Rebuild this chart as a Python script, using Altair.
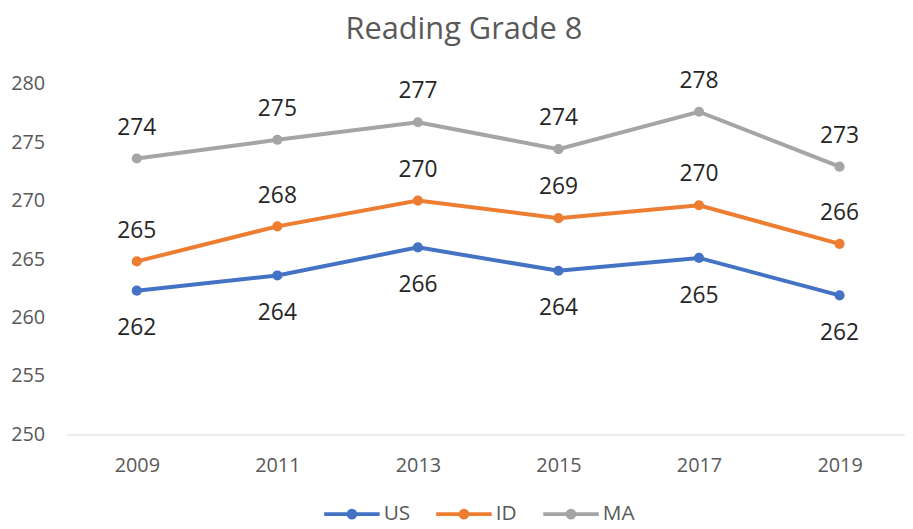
import altair as alt
import pandas as pd

years = ["2009", "2011", "2013", "2015", "2017", "2019"]
series_names = ["US", "ID", "MA"]
colors = ["#4472C4", "#ED7D31", "#A5A5A5"]

us_values = [262.3, 263.6, 266.0, 264.0, 265.1, 261.9]
id_values = [264.8, 267.8, 270.0, 268.5, 269.6, 266.3]
ma_values = [273.6, 275.2, 276.7, 274.4, 277.6, 272.9]

us_labels = ["262", "264", "266", "264", "265", "262"]
id_labels = ["265", "268", "270", "269", "270", "266"]
ma_labels = ["274", "275", "277", "274", "278", "273"]

y_ticks = [250, 255, 260, 265, 270, 275, 280]

rows = []
for name, vals, labs in [("US", us_values, us_labels), ("ID", id_values, id_labels), ("MA", ma_values, ma_labels)]:
    for yr, v, lb in zip(years, vals, labs):
        rows.append({"year": yr, "series": name, "value": v, "label": lb})
df = pd.DataFrame(rows)

FONT = "Open Sans"

legend_path = "M-1,0L1,0M-0.12,0A0.12,0.12,0,1,1,0.12,0A0.12,0.12,0,1,1,-0.12,0Z"

color_scale = alt.Scale(domain=series_names, range=colors)

color_legend = alt.Color(
    "series:N",
    scale=color_scale,
    legend=alt.Legend(
        title=None,
        orient="none",
        direction="horizontal",
        legendX=258,
        legendY=404,
        padding=0,
        symbolType=legend_path,
        symbolSize=3136,
        symbolStrokeWidth=4,
        labelFont=FONT,
        labelFontSize=21,
        labelColor="#595959",
        labelOffset=2,
        columnPadding=18,
    ),
)
color_nolegend = alt.Color("series:N", scale=color_scale, legend=None)

x_enc = alt.X(
    "year:O",
    sort=years,
    scale=alt.Scale(type="point", padding=0.483, align=0.518),
    axis=alt.Axis(
        title=None,
        labelAngle=0,
        labelFont=FONT,
        labelFontSize=20,
        labelColor="#595959",
        labelPadding=21,
        ticks=False,
        grid=False,
        domain=True,
        domainColor="#D9D9D9",
        domainWidth=1,
    ),
)

y_enc = alt.Y(
    "value:Q",
    scale=alt.Scale(domain=[250, 280], nice=False, zero=False),
    axis=alt.Axis(
        title=None,
        values=y_ticks,
        labelFont=FONT,
        labelFontSize=20,
        labelColor="#595959",
        labelPadding=22,
        ticks=False,
        grid=False,
        domain=False,
    ),
)

lines = alt.Chart(df).mark_line(strokeWidth=4).encode(x=x_enc, y=y_enc, color=color_legend)
points = alt.Chart(df).mark_point(filled=True, size=105, opacity=1).encode(
    x=x_enc, y=y_enc, color=color_nolegend
)

text_above = (
    alt.Chart(df)
    .transform_filter(alt.datum.series != "US")
    .mark_text(font=FONT, fontSize=23, color="#262626", dy=-31, baseline="middle")
    .encode(x=x_enc, y=y_enc, text="label:N")
)
text_below = (
    alt.Chart(df)
    .transform_filter(alt.datum.series == "US")
    .mark_text(font=FONT, fontSize=23, color="#262626", dy=38, baseline="middle")
    .encode(x=x_enc, y=y_enc, text="label:N")
)

chart = (
    alt.layer(lines, points, text_above, text_below)
    .properties(
        width=846,
        height=354,
        title=alt.TitleParams(
            text="Reading Grade 8",
            font=FONT,
            fontSize=31,
            fontWeight="normal",
            color="#595959",
            anchor="middle",
            frame="group",
            baseline="alphabetic",
            offset=0,
            dx=-22,
        ),
        padding={"left": 59, "top": 74, "right": 0, "bottom": 93},
        autosize=alt.AutoSizeParams(type="none"),
    )
    .configure_view(stroke=None)
)

chart.save("out.html", embed_options={"renderer": "svg", "actions": False})
